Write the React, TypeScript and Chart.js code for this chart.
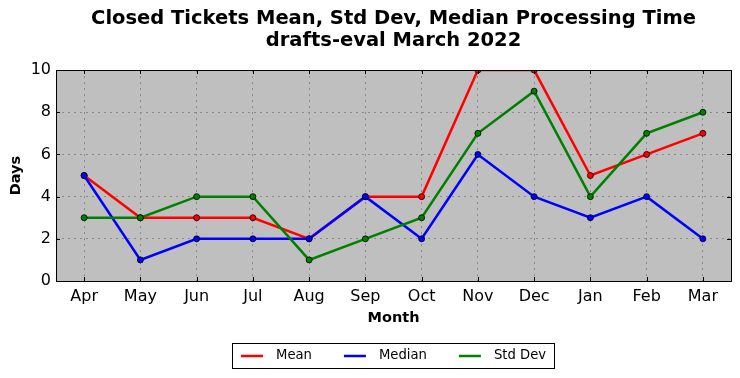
import React, { useEffect, useRef } from "react";
import { Chart, registerables } from "chart.js";

Chart.register(...registerables);

const months = ["Apr", "May", "Jun", "Jul", "Aug", "Sep", "Oct", "Nov", "Dec", "Jan", "Feb", "Mar"];
const meanValues = [5, 3, 3, 3, 2, 4, 4, 10, 10, 5, 6, 7];
const medianValues = [5, 1, 2, 2, 2, 4, 2, 6, 4, 3, 4, 2];
const stdDevValues = [3, 3, 4, 4, 1, 2, 3, 7, 9, 4, 7, 8];
const titleLines = ["Closed Tickets Mean, Std Dev, Median Processing Time", "drafts-eval March 2022"];
const FONT = "'DejaVu Sans', sans-serif";

const frameAndTicks = {
  id: "frameAndTicks",
  beforeDraw(chart: any) {
    const { ctx, chartArea: a } = chart;
    ctx.save();
    ctx.fillStyle = "#bfbfbf";
    ctx.fillRect(a.left, a.top, a.right - a.left, a.bottom - a.top);
    ctx.restore();
  },
  afterDatasetsDraw(chart: any) {
    const { ctx, chartArea: a, scales } = chart;
    ctx.save();
    ctx.strokeStyle = "#000";
    ctx.lineWidth = 1;
    const L = 4;
    ctx.beginPath();
    scales.x.ticks.forEach((_t: any, i: number) => {
      const x = Math.round(scales.x.getPixelForTick(i)) + 0.5;
      ctx.moveTo(x, a.bottom); ctx.lineTo(x, a.bottom - L);
      ctx.moveTo(x, a.top); ctx.lineTo(x, a.top + L);
    });
    scales.y.ticks.forEach((_t: any, i: number) => {
      const y = Math.round(scales.y.getPixelForTick(i)) + 0.5;
      ctx.moveTo(a.left, y); ctx.lineTo(a.left + L, y);
      ctx.moveTo(a.right, y); ctx.lineTo(a.right - L, y);
    });
    ctx.stroke();
    ctx.strokeRect(Math.round(a.left) + 0.5, Math.round(a.top) + 0.5, Math.round(a.right - a.left), Math.round(a.bottom - a.top));
    ctx.restore();
  },
  afterDraw(chart: any) {
    const { ctx, chartArea: a } = chart;
    const ds = chart.data.datasets;
    ctx.save();
    ctx.font = `13.2px ${FONT}`;
    ctx.textBaseline = "middle";
    const handle = 22, gap = 13, colSp = 32, padL = 9, padR = 8;
    const widths = ds.map((d: any) => ctx.measureText(d.label).width);
    let total = padL + padR + colSp * (ds.length - 1);
    widths.forEach((w: number) => (total += handle + gap + w));
    const cx = (a.left + a.right) / 2;
    const boxL = Math.round(cx - total / 2);
    const boxT = 343, boxH = 25;
    ctx.fillStyle = "#fff";
    ctx.fillRect(boxL, boxT, total, boxH);
    ctx.strokeStyle = "#000";
    ctx.lineWidth = 1;
    ctx.strokeRect(boxL + 0.5, boxT + 0.5, Math.round(total), boxH);
    let x = boxL + padL;
    const y = boxT + boxH / 2 + 0.5;
    ds.forEach((d: any, i: number) => {
      ctx.strokeStyle = d.borderColor;
      ctx.lineWidth = 2.5;
      ctx.beginPath();
      ctx.moveTo(x, y);
      ctx.lineTo(x + handle, y);
      ctx.stroke();
      x += handle + gap;
      ctx.fillStyle = "#000";
      ctx.fillText(d.label, x, y);
      x += widths[i] + colSp;
    });
    ctx.restore();
  },
};

export default function App() {
  const ref = useRef<HTMLCanvasElement>(null);
  useEffect(() => {
    document.body.style.margin = "0";
    const mk = (label: string, data: number[], color: string, order: number) => ({
      label,
      data,
      borderColor: color,
      backgroundColor: color,
      pointBackgroundColor: color,
      pointBorderColor: "#000",
      pointBorderWidth: 0.8,
      pointRadius: 3,
      borderWidth: 2.5,
      tension: 0,
      clip: 0,
      order,
    });
    const gridColor = "#8a8a8a";
    const chart = new Chart(ref.current as HTMLCanvasElement, {
      type: "line",
      data: {
        labels: months,
        datasets: [
          mk("Mean", meanValues, "#ff0000", 2),
          mk("Median", medianValues, "#0000ff", 1),
          mk("Std Dev", stdDevValues, "#008000", 0),
        ],
      },
      options: {
        animation: false,
        responsive: false,
        devicePixelRatio: 1,
        layout: { padding: { left: 0, right: 9, top: 0, bottom: 47 } },
        plugins: {
          legend: { display: false },
          tooltip: { enabled: false },
          title: {
            display: true,
            text: titleLines,
            fullSize: false,
            color: "#000",
            font: { family: FONT, size: 19.5, weight: "bold", lineHeight: 1.13 },
            padding: { top: 8, bottom: 18 },
          },
        },
        scales: {
          x: {
            type: "category",
            offset: true,
            grid: { display: true, color: gridColor, lineWidth: 1, drawTicks: false, offset: false },
            border: { display: false, dash: [2, 4] },
            ticks: { color: "#000", font: { family: FONT, size: 16 }, padding: 6, maxRotation: 0 },
            title: { display: true, text: "Month", color: "#000", font: { family: FONT, size: 14.5, weight: "bold" }, padding: { top: 0, bottom: 4 } },
            afterFit(s: any) { s.height = 50; },
          },
          y: {
            min: 0,
            max: 10,
            grid: { color: gridColor, lineWidth: 1, drawTicks: false },
            border: { display: false, dash: [2, 4] },
            ticks: { stepSize: 2, color: "#000", font: { family: FONT, size: 16 }, padding: 5 },
            title: { display: true, text: "Days", color: "#000", font: { family: FONT, size: 14.5, weight: "bold" }, padding: { top: 8, bottom: 0 } },
            afterFit(s: any) { s.width = 56; },
          },
        },
      } as any,
      plugins: [frameAndTicks],
    });
    return () => chart.destroy();
  }, []);
  return (
    <div style={{ position: "fixed", left: 0, top: 0, width: 740, height: 378, background: "#fff" }}>
      <canvas ref={ref} width={740} height={378} />
    </div>
  );
}
